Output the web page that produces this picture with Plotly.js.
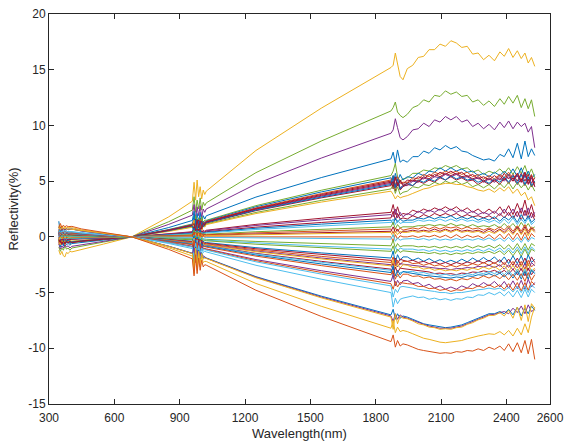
<!DOCTYPE html>
<html>
<head>
<meta charset="utf-8">
<script src="https://cdn.plot.ly/plotly-3.0.1.min.js"></script>
<style>html,body{margin:0;padding:0;background:#fff;}#chart{width:569px;height:443px;}</style>
</head>
<body>
<div id="chart"></div>
<script>
// Wavelength sample positions (nm)
const wavelength = [345,352,359,366,373,380,388,396,405, 450,550,680,850,958, 966,973,980,987,994,1001,1008,1015, 1022,1250,1550,1870, 1880,1890,1900,1912,1925, 1945,1970,1995,2020,2045,2070,2095,2120,2145,2170,2195,2220,2245,2270,2295,2320,2345,2370,2390,2410,2430,2450,2468,2485,2500,2515,2530];

// Reflectivity (%) spectra, one array per sample
const r01 = [-1.2,-1.6,-1.3,-1.7,-1.8,-1.4,-1.5,-1.3,-1.35, -1.15,-0.65,0,1.8,3.2, 4.9,3.3,5.1,3.6,4.5,3.4,4.2,3.8, 4.1,7.75,11.55,15.2, 15.4,16.5,15.6,14.4,14.1, 15.1,15.4,16.1,16.2,16.8,16.8,17.3,17.1,17.6,17.4,17.0,17.1,16.4,16.5,15.9,16.3,15.8,16.6,16.2,16.9,16.1,16.7,16.0,16.5,15.6,16.1,15.3];
const r02 = [-0.9,-1.3,-1.0,-1.2,-0.8,-1.1,-1.0,-1.2,-1.0, -0.85,-0.47,0,1.36,2.4, 3.6,2.2,3.3,2.5,3.5,2.4,3.1,2.8, 3.05,5.76,8.6,11.3, 11.6,12.1,11.2,10.9,10.7, 11.0,11.6,11.8,12.3,12.1,12.7,12.6,13.1,12.8,13.0,12.6,12.7,12.1,12.3,11.8,12.2,11.7,12.4,11.9,12.6,12.0,12.7,11.6,12.4,11.5,12.3,10.8];
const r03 = [-0.6,-1.1,-0.8,-1.0,-0.7,-0.9,-0.8,-1.0,-0.85, -0.7,-0.39,0,1.12,1.95, 2.9,1.6,2.7,1.9,2.8,1.7,2.5,2.2, 2.5,4.74,7.07,9.3, 9.6,10.6,9.8,8.9,8.7, 9.0,9.6,9.7,10.2,9.9,10.5,10.3,10.8,10.5,10.8,10.3,10.5,9.9,10.2,9.7,10.1,9.6,10.3,9.8,10.4,9.7,10.3,9.9,10.2,9.4,9.9,8.0];
const r04 = [-0.2,-0.9,-0.4,-0.8,-0.5,-0.7,-0.6,-0.75,-0.6, -0.52,-0.29,0,0.84,1.47, 2.3,1.1,2.1,1.3,2.2,1.2,1.9,1.6, 1.89,3.57,5.32,7.0, 7.6,6.6,7.8,6.7,6.9, 6.7,7.2,7.2,7.7,7.5,8.0,7.8,8.2,7.9,8.1,7.7,7.6,7.3,7.1,6.9,7.0,6.8,7.4,7.2,7.9,7.1,8.4,7.0,8.6,7.2,7.9,7.3];
const r05 = [-0.3,-0.7,-0.4,-0.6,-0.3,-0.5,-0.45,-0.6,-0.5, -0.41,-0.23,0,0.66,1.16, 0.7,1.9,1.0,1.7,0.9,1.8,1.2,1.5, 1.49,2.8,4.18,5.5, 5.9,6.6,5.4,5.0,5.2, 5.3,5.7,5.7,6.0,5.9,6.2,6.1,6.4,6.2,6.4,6.1,6.2,5.8,6.0,5.6,5.9,5.7,6.1,5.7,6.2,5.6,6.3,5.7,6.4,5.5,6.1,5.3];
const r06 = [0.3,-0.6,-0.1,-0.7,-0.3,-0.5,-0.2,-0.6,-0.45, -0.4,-0.22,0,0.64,1.11, 1.9,0.6,1.6,0.8,1.7,0.9,1.4,1.2, 1.43,2.7,4.03,5.3, 4.7,5.7,5.0,5.6,5.1, 5.4,5.3,5.7,5.5,5.9,5.8,6.2,5.9,6.2,5.9,6.1,5.8,5.9,5.5,5.7,5.4,5.8,5.5,5.9,5.5,6.1,5.4,6.2,5.3,5.9,5.2,5.6];
const r07 = [-0.7,-0.3,-0.6,-0.4,-0.7,-0.4,-0.5,-0.35,-0.5, -0.38,-0.21,0,0.61,1.07, 1.5,0.8,1.4,0.7,1.6,1.0,1.3,1.1, 1.38,2.6,3.88,5.1, 5.5,4.6,5.4,4.8,4.9, 4.9,5.3,5.2,5.6,5.4,5.8,5.6,5.9,5.7,5.9,5.6,5.8,5.4,5.6,5.2,5.5,5.2,5.6,5.3,5.8,5.2,5.7,5.1,5.8,5.0,5.6,4.8];
const r08 = [-0.5,-0.2,-0.7,-0.3,-0.6,-0.4,-0.55,-0.4,-0.5, -0.38,-0.21,0,0.6,1.05, 0.5,1.6,0.8,1.5,0.6,1.4,1.0,1.3, 1.35,2.55,3.8,5.0, 4.3,5.4,4.6,5.1,4.7, 5.1,5.0,5.4,5.2,5.6,5.4,5.8,5.6,5.9,5.6,5.8,5.4,5.6,5.2,5.4,5.1,5.5,5.1,5.7,5.2,5.6,5.0,5.7,5.0,5.6,4.8,5.3];
const r09 = [-0.1,-0.6,-0.3,-0.5,-0.2,-0.55,-0.4,-0.5,-0.45, -0.36,-0.2,0,0.58,1.0, 1.5,0.5,1.3,0.6,1.4,0.8,1.2,1.0, 1.3,2.45,3.65,4.8, 5.3,4.5,5.2,4.4,4.6, 4.6,5.0,4.9,5.3,5.1,5.4,5.3,5.6,5.4,5.6,5.3,5.4,5.1,5.3,4.9,5.2,4.9,5.3,5.0,5.4,5.0,5.5,4.9,5.6,4.8,5.3,4.5];
const r10 = [-0.3,-0.6,-0.2,-0.5,-0.3,-0.5,-0.4,-0.45,-0.45, -0.35,-0.19,0,0.55,0.97, 1.3,0.3,1.2,0.5,1.1,0.6,1.0,1.0, 1.24,2.35,3.5,4.6, 5.0,4.1,4.9,4.2,4.5, 4.7,4.6,5.0,4.8,5.1,4.9,5.3,5.1,5.4,5.1,5.3,5.0,5.1,4.7,5.0,4.7,5.1,4.7,5.3,4.8,5.3,4.7,5.2,4.6,5.2,4.5,4.9];
const r11 = [-0.4,-0.1,-0.5,-0.3,-0.45,-0.3,-0.4,-0.35,-0.4, -0.32,-0.18,0,0.52,0.9, 1.2,0.6,1.1,0.5,1.0,0.7,1.0,0.9, 1.16,2.19,3.27,4.3, 4.7,3.9,4.5,3.8,4.0, 4.1,4.5,4.4,4.7,4.6,4.9,4.7,5.0,4.8,5.0,4.7,4.9,4.5,4.7,4.4,4.7,4.3,4.8,4.4,4.9,4.3,4.9,4.4,4.8,4.2,4.7,4.1];
const r12 = [-0.4,-0.7,-0.3,-0.5,-0.3,-0.45,-0.4,-0.4,-0.4, -0.31,-0.17,0,0.49,0.86, 1.5,0.4,1.2,0.5,1.3,0.6,1.0,0.9, 1.1,2.09,3.12,4.1, 3.8,3.4,3.7,3.5,3.6, 3.7,3.9,4.1,4.3,4.4,4.6,4.7,4.8,4.8,4.7,4.7,4.5,4.4,4.2,4.1,4.3,4.0,4.4,4.1,4.5,3.9,4.3,3.7,4.0,3.3,3.6,2.8];
const r13 = [0.5,-0.3,0.2,-0.4,0.0,-0.5,-0.2,-0.5,-0.45, -0.35,-0.2,0,0.56,0.99, 0.3,1.5,0.6,1.4,0.5,1.3,0.9,1.2, 1.27,2.4,3.57,4.7, 5.5,4.4,5.2,4.3,4.6, 4.8,4.6,5.1,4.9,5.2,5.0,5.4,5.1,5.5,5.2,5.4,5.1,5.2,4.9,5.1,4.8,5.2,4.9,5.4,4.9,5.5,4.8,5.6,4.7,5.4,4.6,5.0];
const r14 = [-0.5,-0.3,-0.6,-0.4,-0.6,-0.4,-0.5,-0.4,-0.5, -0.37,-0.21,0,0.59,1.03, 1.2,0.6,1.5,0.8,1.4,0.7,1.2,1.1, 1.32,2.5,3.72,4.9, 4.5,5.3,4.6,5.0,4.6, 4.8,5.1,5.0,5.4,5.2,5.6,5.4,5.7,5.5,5.7,5.4,5.5,5.2,5.4,5.0,5.3,5.0,5.5,5.1,5.6,5.0,5.7,4.9,5.8,4.7,5.5,4.5];
const r15 = [-0.2,-0.5,-0.1,-0.3,-0.1,-0.3,-0.2,-0.25,-0.22, -0.17,-0.09,0,0.26,0.46, 0.9,0.1,0.7,0.2,0.8,0.3,0.6,0.5, 0.59,1.12,1.67,2.2, 2.9,2.0,2.7,1.9,2.1, 2.0,2.4,2.2,2.5,2.3,2.6,2.4,2.7,2.4,2.7,2.3,2.6,2.2,2.5,2.1,2.5,2.1,2.7,2.1,2.8,2.0,3.0,2.1,3.3,2.0,2.9,1.8];
const r16 = [0.0,-0.3,-0.2,-0.1,-0.3,-0.15,-0.25,-0.15,-0.2, -0.15,-0.08,0,0.24,0.42, 0.7,0.1,0.6,0.2,0.7,0.2,0.5,0.4, 0.54,1.02,1.52,2.0, 1.8,2.5,1.7,2.2,1.8, 2.1,1.9,2.3,2.1,2.4,2.2,2.5,2.2,2.5,2.2,2.4,2.1,2.3,2.0,2.2,2.0,2.3,1.9,2.5,1.9,2.5,1.8,2.6,1.9,2.6,1.7,2.2];
const r17 = [-0.3,-0.1,-0.25,-0.1,-0.2,-0.15,-0.2,-0.15,-0.17, -0.13,-0.07,0,0.2,0.36, 0.1,0.6,0.2,0.7,0.2,0.5,0.3,0.45, 0.46,0.87,1.29,1.7, 2.3,1.5,2.1,1.6,1.7, 1.6,1.9,1.7,2.0,1.8,2.1,1.9,2.1,1.9,2.1,1.8,2.0,1.8,1.9,1.7,1.9,1.6,2.1,1.7,2.2,1.6,2.3,1.5,2.4,1.6,2.2,1.5];
const r18 = [0.4,-0.2,0.3,-0.1,0.2,-0.15,0.0,-0.15,-0.15, -0.11,-0.06,0,0.18,0.32, 0.8,0.0,0.6,0.1,0.6,0.1,0.4,0.35, 0.41,0.77,1.14,1.5, 1.1,1.7,1.3,1.6,1.4, 1.5,1.5,1.7,1.6,1.8,1.6,1.8,1.7,1.9,1.6,1.8,1.6,1.8,1.5,1.7,1.5,1.8,1.4,1.8,1.5,1.9,1.3,2.0,1.4,1.9,1.3,1.6];
const r19 = [0.1,-0.2,0.0,-0.1,-0.2,-0.1,-0.15,-0.1,-0.13, -0.1,-0.05,0,0.16,0.27, 0.0,0.5,0.1,0.5,0.2,0.4,0.3,0.35, 0.35,0.66,0.99,1.3, 1.6,1.1,1.5,1.2,1.3, 1.3,1.3,1.5,1.4,1.5,1.4,1.6,1.4,1.6,1.4,1.6,1.4,1.5,1.3,1.5,1.3,1.5,1.2,1.6,1.2,1.7,1.1,1.6,1.2,1.7,1.1,1.4];
const r20 = [-0.2,0.1,-0.15,0.0,-0.1,-0.05,-0.1,-0.08,-0.09, -0.07,-0.04,0,0.11,0.19, 0.6,-0.1,0.5,0.0,0.4,0.0,0.3,0.25, 0.24,0.46,0.68,0.9, 1.3,0.7,1.1,0.8,0.9, 0.9,0.9,1.0,1.0,1.1,1.0,1.1,1.0,1.2,1.0,1.1,0.9,1.1,0.9,1.0,0.9,1.1,0.8,1.2,0.8,1.2,0.7,1.3,0.8,1.2,0.7,0.9];
const r21 = [-0.1,0.2,0.0,0.1,-0.1,0.0,-0.05,-0.06,-0.07, -0.05,-0.03,0,0.08,0.15, -0.2,0.4,-0.1,0.4,0.0,0.3,0.1,0.2, 0.19,0.36,0.53,0.7, 0.3,0.8,0.5,0.8,0.6, 0.7,0.8,0.7,0.9,0.7,0.9,0.7,0.9,0.8,0.9,0.7,0.9,0.7,0.8,0.6,0.8,0.6,0.9,0.6,1.0,0.5,1.0,0.5,1.1,0.5,0.9,0.6];
const r22 = [0.2,-0.1,0.1,-0.1,0.1,-0.05,0.0,-0.05,-0.05, -0.04,-0.02,0,0.06,0.1, 0.4,-0.1,0.3,-0.1,0.3,0.0,0.2,0.13, 0.13,0.26,0.38,0.5, 0.9,0.4,0.7,0.3,0.5, 0.5,0.6,0.5,0.6,0.5,0.7,0.5,0.7,0.5,0.7,0.5,0.6,0.5,0.6,0.4,0.7,0.4,0.7,0.4,0.8,0.3,0.9,0.3,0.9,0.3,0.8,0.5];
const r23 = [-0.3,0.0,-0.2,0.05,-0.1,0.0,-0.05,-0.04,-0.04, -0.03,-0.02,0,0.05,0.08, -0.3,0.3,-0.2,0.3,-0.1,0.2,0.0,0.1, 0.11,0.2,0.3,0.4, 0.0,0.5,0.2,0.5,0.4, 0.4,0.5,0.4,0.5,0.4,0.5,0.4,0.6,0.4,0.6,0.4,0.5,0.4,0.5,0.3,0.5,0.3,0.6,0.3,0.6,0.2,0.7,0.2,0.7,0.1,0.7,0.4];
const r24 = [0.3,0.0,0.2,-0.1,0.15,-0.05,0.05,0.0,0.0, 0,0,0,0,0, 0.4,-0.3,0.3,-0.2,0.3,-0.1,0.1,0.0, 0,0,0,0, -0.4,0.2,-0.2,0.1,0.0, 0.0,0.1,-0.05,0.1,0.0,0.15,-0.05,0.15,-0.1,0.2,-0.1,0.15,-0.05,0.1,-0.15,0.2,-0.2,0.25,-0.2,0.3,-0.25,0.35,-0.3,0.4,-0.3,0.3,0.0];
const r25 = [0.1,0.3,0.0,0.2,0.0,0.1,0.0,0.03,0.02, 0.015,0.01,0,-0.02,-0.04, -0.5,0.2,-0.4,0.1,-0.3,0.0,-0.2,-0.05, -0.05,-0.1,-0.15,-0.2, 0.2,-0.4,-0.1,-0.3,-0.2, -0.2,-0.15,-0.25,-0.15,-0.3,-0.15,-0.3,-0.2,-0.3,-0.15,-0.3,-0.2,-0.3,-0.15,-0.3,-0.1,-0.35,-0.1,-0.4,-0.05,-0.45,-0.05,-0.5,0.0,-0.45,-0.05,-0.2];
const r26 = [0.3,0.0,0.2,0.05,0.15,0.05,0.1,0.07,0.08, 0.06,0.03,0,-0.1,-0.17, -0.6,0.1,-0.5,0.0,-0.4,-0.1,-0.3,-0.2, -0.22,-0.41,-0.61,-0.8, -0.3,-1.0,-0.6,-0.9,-0.8, -0.8,-0.8,-0.9,-0.85,-0.95,-0.85,-1.0,-0.85,-1.0,-0.85,-1.0,-0.8,-1.0,-0.8,-0.95,-0.75,-1.0,-0.7,-1.1,-0.7,-1.15,-0.6,-1.2,-0.6,-1.2,-0.6,-0.8];
const r27 = [0.0,0.3,0.1,0.2,0.05,0.15,0.1,0.12,0.1, 0.08,0.05,0,-0.13,-0.23, 0.1,-0.6,0.0,-0.5,-0.1,-0.4,-0.2,-0.3, -0.3,-0.56,-0.84,-1.1, -1.5,-0.9,-1.3,-1.0,-1.1, -1.1,-1.1,-1.2,-1.15,-1.3,-1.15,-1.3,-1.2,-1.35,-1.2,-1.3,-1.15,-1.3,-1.1,-1.3,-1.05,-1.3,-1.0,-1.4,-1.0,-1.45,-0.9,-1.5,-0.9,-1.5,-0.9,-1.2];
const r28 = [0.2,0.4,0.1,0.3,0.1,0.2,0.1,0.15,0.13, 0.1,0.05,0,-0.16,-0.27, -0.7,0.0,-0.6,-0.1,-0.5,-0.2,-0.4,-0.33, -0.35,-0.66,-0.99,-1.3, -0.8,-1.5,-1.1,-1.4,-1.25, -1.3,-1.35,-1.4,-1.4,-1.5,-1.4,-1.55,-1.45,-1.6,-1.45,-1.55,-1.4,-1.5,-1.35,-1.45,-1.3,-1.5,-1.25,-1.6,-1.2,-1.7,-1.15,-1.75,-1.1,-1.7,-1.1,-1.3];
const r29 = [0.5,0.1,0.35,0.1,0.3,0.15,0.2,0.17,0.19, 0.14,0.08,0,-0.23,-0.4, 0.1,-0.9,0.0,-0.8,-0.2,-0.7,-0.4,-0.5, -0.51,-0.97,-1.44,-1.9, -1.3,-2.3,-1.6,-2.1,-1.8, -1.8,-2.1,-1.9,-2.2,-1.95,-2.25,-2.05,-2.3,-2.1,-2.3,-2.0,-2.25,-1.9,-2.2,-1.85,-2.2,-1.8,-2.3,-1.8,-2.4,-1.7,-2.4,-1.7,-2.5,-1.6,-2.3,-2.0];
const r30 = [0.2,0.45,0.2,0.35,0.15,0.25,0.2,0.2,0.21, 0.16,0.09,0,-0.25,-0.44, -0.9,-0.1,-0.8,-0.2,-0.7,-0.3,-0.6,-0.55, -0.57,-1.07,-1.6,-2.1, -2.6,-1.9,-2.4,-2.0,-2.1, -2.2,-2.1,-2.3,-2.2,-2.4,-2.25,-2.45,-2.3,-2.5,-2.3,-2.45,-2.25,-2.4,-2.15,-2.35,-2.1,-2.4,-2.05,-2.5,-2.0,-2.55,-1.9,-2.6,-1.9,-2.6,-1.8,-2.3];
const r31 = [0.1,0.35,0.4,0.2,0.3,0.2,0.25,0.22,0.23, 0.17,0.1,0,-0.28,-0.48, -0.1,-1.0,-0.2,-0.9,-0.3,-0.8,-0.5,-0.6, -0.62,-1.17,-1.75,-2.3, -1.8,-2.6,-2.1,-2.5,-2.2, -2.2,-2.4,-2.35,-2.55,-2.4,-2.6,-2.5,-2.7,-2.55,-2.7,-2.5,-2.6,-2.4,-2.55,-2.3,-2.55,-2.3,-2.65,-2.3,-2.75,-2.2,-2.8,-2.2,-2.9,-2.1,-2.7,-2.4];
const r32 = [0.3,0.1,0.35,0.15,0.3,0.2,0.25,0.25,0.25, 0.19,0.1,0,-0.3,-0.52, -1.1,-0.2,-1.0,-0.3,-0.9,-0.4,-0.7,-0.65, -0.68,-1.27,-1.9,-2.5, -3.0,-2.3,-2.7,-2.4,-2.45, -2.5,-2.55,-2.65,-2.7,-2.75,-2.8,-2.85,-2.85,-2.95,-2.85,-2.85,-2.75,-2.8,-2.65,-2.7,-2.55,-2.75,-2.5,-2.9,-2.5,-2.95,-2.4,-3.0,-2.4,-3.0,-2.3,-2.6];
const r33 = [0.6,0.2,0.45,0.15,0.35,0.2,0.3,0.25,0.26, 0.2,0.11,0,-0.31,-0.55, -0.1,-1.3,-0.3,-1.1,-0.4,-0.9,-0.6,-0.7, -0.7,-1.33,-1.98,-2.6, -2.1,-2.9,-2.4,-2.8,-2.5, -2.55,-2.75,-2.7,-2.9,-2.8,-3.0,-2.9,-3.05,-2.95,-3.05,-2.9,-3.0,-2.8,-2.95,-2.7,-2.9,-2.65,-3.0,-2.6,-3.1,-2.55,-3.15,-2.5,-3.3,-2.4,-3.1,-2.8];
const r34 = [0.4,0.6,0.3,0.45,0.25,0.35,0.3,0.28,0.29, 0.22,0.12,0,-0.35,-0.61, -1.2,-0.3,-1.1,-0.4,-1.0,-0.5,-0.8,-0.75, -0.78,-1.48,-2.2,-2.9, -3.4,-2.7,-3.2,-2.8,-2.85, -2.9,-3.0,-3.05,-3.15,-3.15,-3.3,-3.25,-3.35,-3.3,-3.4,-3.25,-3.3,-3.15,-3.2,-3.05,-3.15,-3.0,-3.25,-3.0,-3.35,-2.9,-3.4,-2.85,-3.5,-2.8,-3.4,-2.95];
const r35 = [0.2,0.5,0.3,0.4,0.25,0.35,0.3,0.3,0.3, 0.23,0.13,0,-0.36,-0.63, -0.2,-1.2,-0.3,-1.1,-0.5,-0.9,-0.7,-0.8, -0.81,-1.53,-2.28,-3.0, -3.8,-3.4,-3.6,-3.2,-3.15, -3.1,-3.1,-3.25,-3.2,-3.35,-3.3,-3.45,-3.35,-3.5,-3.4,-3.45,-3.3,-3.4,-3.2,-3.3,-3.1,-3.3,-3.05,-3.4,-3.0,-3.5,-2.9,-3.55,-2.9,-3.5,-2.9,-3.2];
const r36 = [1.4,0.3,0.6,0.3,0.45,0.3,0.35,0.32,0.32, 0.24,0.13,0,-0.38,-0.67, -1.4,-0.3,-1.3,-0.5,-1.1,-0.6,-0.9,-0.85, -0.86,-1.63,-2.43,-3.2, -2.6,-3.5,-3.0,-3.4,-3.1, -3.2,-3.3,-3.35,-3.45,-3.5,-3.55,-3.6,-3.65,-3.7,-3.6,-3.65,-3.5,-3.55,-3.4,-3.45,-3.3,-3.5,-3.25,-3.6,-3.2,-3.7,-3.1,-3.8,-3.1,-3.8,-3.0,-3.3];
const r37 = [0.3,0.6,0.4,0.5,0.3,0.4,0.35,0.34,0.34, 0.26,0.14,0,-0.41,-0.71, -0.3,-1.5,-0.5,-1.3,-0.6,-1.1,-0.8,-0.9, -0.92,-1.73,-2.58,-3.4, -3.0,-3.8,-3.3,-3.7,-3.35, -3.35,-3.55,-3.5,-3.7,-3.6,-3.8,-3.75,-3.9,-3.8,-3.95,-3.75,-3.85,-3.65,-3.75,-3.5,-3.7,-3.45,-3.75,-3.4,-3.85,-3.35,-3.9,-3.3,-4.0,-3.2,-3.9,-3.4];
const r38 = [0.3,0.5,0.45,0.35,0.5,0.35,0.42,0.38,0.4, 0.3,0.17,0,-0.48,-0.84, -1.6,-0.5,-1.5,-0.6,-1.3,-0.8,-1.1,-1.05, -1.08,-2.04,-3.04,-4.0, -3.4,-4.4,-3.9,-4.3,-3.95, -3.9,-4.2,-4.1,-4.45,-4.25,-4.6,-4.4,-4.7,-4.5,-4.7,-4.4,-4.6,-4.2,-4.45,-4.1,-4.4,-4.0,-4.5,-4.0,-4.6,-3.95,-4.65,-3.9,-4.7,-3.8,-4.5,-4.1];
const r39 = [0.6,0.3,0.55,0.35,0.5,0.4,0.45,0.4,0.42, 0.32,0.18,0,-0.5,-0.88, -0.4,-1.6,-0.6,-1.4,-0.8,-1.2,-1.0,-1.1, -1.13,-2.14,-3.19,-4.2, -4.7,-4.0,-4.5,-4.1,-4.15, -4.2,-4.25,-4.45,-4.45,-4.65,-4.6,-4.8,-4.7,-4.9,-4.75,-4.8,-4.6,-4.65,-4.4,-4.55,-4.3,-4.55,-4.3,-4.7,-4.2,-4.8,-4.1,-4.85,-4.1,-4.8,-4.0,-4.3];
const r40 = [0.4,0.7,0.4,0.55,0.35,0.5,0.42,0.44,0.44, 0.33,0.18,0,-0.53,-0.92, -1.8,-0.6,-1.7,-0.8,-1.5,-1.0,-1.2,-1.15, -1.19,-2.24,-3.34,-4.4, -5.4,-4.7,-5.0,-4.5,-4.45, -4.5,-4.6,-4.7,-4.75,-4.85,-4.9,-5.0,-5.0,-5.1,-5.0,-5.0,-4.9,-4.85,-4.75,-4.7,-4.6,-4.7,-4.6,-4.85,-4.55,-4.95,-4.45,-5.0,-4.4,-5.0,-4.3,-4.6];
const r41 = [0.7,0.4,0.65,0.45,0.6,0.45,0.5,0.48,0.5, 0.38,0.21,0,-0.6,-1.05, -2.0,-0.6,-1.9,-0.8,-1.7,-1.0,-1.4,-1.3, -1.35,-2.55,-3.8,-5.0, -6.3,-5.5,-6.0,-5.6,-5.5, -5.4,-5.3,-5.45,-5.4,-5.6,-5.5,-5.65,-5.55,-5.7,-5.55,-5.6,-5.4,-5.45,-5.2,-5.25,-5.0,-5.2,-4.95,-5.3,-4.9,-5.4,-4.8,-5.45,-4.7,-5.4,-4.7,-5.0];
const r42 = [0.9,0.5,0.8,0.6,0.75,0.6,0.7,0.68,0.7, 0.52,0.29,0,-0.84,-1.47, -2.5,-0.9,-2.3,-1.2,-2.1,-1.4,-1.9,-1.8, -1.89,-3.57,-5.32,-7.0, -6.5,-7.4,-6.9,-7.3,-7.1, -7.2,-7.4,-7.6,-7.8,-7.9,-8.0,-8.1,-8.15,-8.1,-8.0,-7.9,-7.7,-7.5,-7.3,-7.1,-6.9,-6.9,-6.7,-6.9,-6.5,-7.0,-6.3,-7.1,-6.4,-6.9,-6.2,-6.6];
const r43 = [0.6,0.9,0.55,0.8,0.6,0.75,0.65,0.7,0.7, 0.53,0.3,0,-0.85,-1.49, -1.0,-2.3,-1.2,-2.1,-1.4,-1.9,-1.7,-1.85, -1.92,-3.62,-5.4,-7.1, -7.6,-6.9,-7.4,-7.0,-7.2, -7.3,-7.5,-7.7,-7.85,-8.0,-8.1,-8.2,-8.2,-8.2,-8.1,-8.0,-7.8,-7.6,-7.4,-7.2,-7.0,-6.95,-6.8,-6.7,-6.9,-6.4,-6.8,-6.2,-6.9,-6.1,-6.7,-6.5];
const r44 = [1.0,0.6,0.9,0.65,0.8,0.65,0.72,0.7,0.72, 0.54,0.3,0,-0.86,-1.51, -2.8,-1.0,-2.6,-1.3,-2.3,-1.5,-2.0,-1.9, -1.94,-3.67,-5.47,-7.2, -8.3,-6.9,-7.8,-7.1,-7.3, -7.35,-7.55,-7.8,-7.9,-8.1,-8.15,-8.3,-8.25,-8.3,-8.15,-8.1,-7.85,-7.7,-7.45,-7.3,-7.05,-7.05,-6.8,-7.1,-6.6,-7.3,-6.3,-7.5,-6.1,-7.6,-6.0,-6.4];
const r45 = [0.7,1.0,0.75,0.9,0.8,0.85,0.82,0.8,0.82, 0.62,0.34,0,-0.98,-1.72, -3.3,-1.2,-3.0,-1.5,-2.7,-1.8,-2.3,-2.2, -2.21,-4.18,-6.23,-8.2, -7.5,-8.6,-8.1,-8.5,-8.4, -8.5,-8.7,-8.9,-9.1,-9.2,-9.35,-9.45,-9.5,-9.45,-9.4,-9.3,-9.15,-9.0,-8.9,-8.8,-8.7,-8.75,-8.5,-8.8,-8.4,-8.9,-8.2,-8.8,-7.8,-8.6,-7.2,-6.3];
const r46 = [0.8,1.2,0.85,1.05,0.9,1.0,0.92,0.9,0.94, 0.71,0.39,0,-1.13,-1.97, -3.5,-1.6,-3.3,-1.9,-3.0,-2.1,-2.7,-2.5, -2.54,-4.79,-7.14,-9.4, -8.8,-9.9,-9.3,-9.8,-9.6, -9.7,-9.9,-10.1,-10.2,-10.3,-10.35,-10.45,-10.4,-10.45,-10.3,-10.35,-10.2,-10.25,-10.05,-10.2,-9.9,-10.1,-9.8,-10.2,-9.6,-10.3,-9.5,-10.4,-9.3,-10.5,-9.2,-11.0];

const series = [r01,r02,r03,r04,r05,r06,r07,r08,r09,r10,r11,r12,r13,r14,r15,r16,r17,r18,r19,r20,r21,r22,r23,r24,r25,r26,r27,r28,r29,r30,r31,r32,r33,r34,r35,r36,r37,r38,r39,r40,r41,r42,r43,r44,r45,r46];

// MATLAB default palette
const C = {blue:'#0072BD', orange:'#D95319', yellow:'#EDB120', purple:'#7E2F8E', green:'#77AC30', lblue:'#4DBEEE', red:'#A2142F'};
const seriesColors = ['yellow','green','purple','blue','green','blue','orange','red','purple','red','green','yellow','blue','red',
  'red','purple','red','blue','lblue','green','orange','red','yellow','orange','lblue','green','lblue','green',
  'blue','red','orange','purple','yellow','red','lblue','blue','orange','purple','orange','lblue','lblue',
  'blue','purple','yellow','yellow','orange'];

const xTicks = [300, 600, 900, 1200, 1500, 1800, 2100, 2400, 2600];
const yTicks = [-15, -10, -5, 0, 5, 10, 15, 20];

const traces = series.map((s, i) => ({
  x: wavelength, y: s, type: 'scatter', mode: 'lines',
  line: {color: C[seriesColors[i]], width: 1},
  hoverinfo: 'skip'
}));

const FONT = 'Liberation Sans, Arial, Helvetica, sans-serif';
const axisCommon = {
  showgrid: false, zeroline: false, showline: true, linecolor: '#262626', linewidth: 1,
  mirror: 'ticks', ticks: 'inside', ticklen: 5, tickwidth: 1, tickcolor: '#262626',
  tickfont: {family: FONT, size: 12, color: '#262626'}
};

const layout = {
  width: 569, height: 443,
  margin: {l: 49, r: 19, t: 14, b: 39},
  paper_bgcolor: '#fff', plot_bgcolor: '#fff',
  showlegend: false,
  xaxis: Object.assign({}, axisCommon, {
    range: [300, 2600], tickmode: 'array', tickvals: xTicks, ticktext: xTicks.map(String),
    ticklabelstandoff: 3,
    title: {text: 'Wavelength(nm)', font: {family: FONT, size: 13, color: '#262626'}, standoff: 4}
  }),
  yaxis: Object.assign({}, axisCommon, {
    range: [-15, 20], tickmode: 'array', tickvals: yTicks, ticktext: yTicks.map(String),
    title: {text: 'Reflectivity(%)', font: {family: FONT, size: 13, color: '#262626'}, standoff: 6}
  })
};

Plotly.newPlot('chart', traces, layout, {staticPlot: true, displayModeBar: false});
</script>
</body>
</html>
